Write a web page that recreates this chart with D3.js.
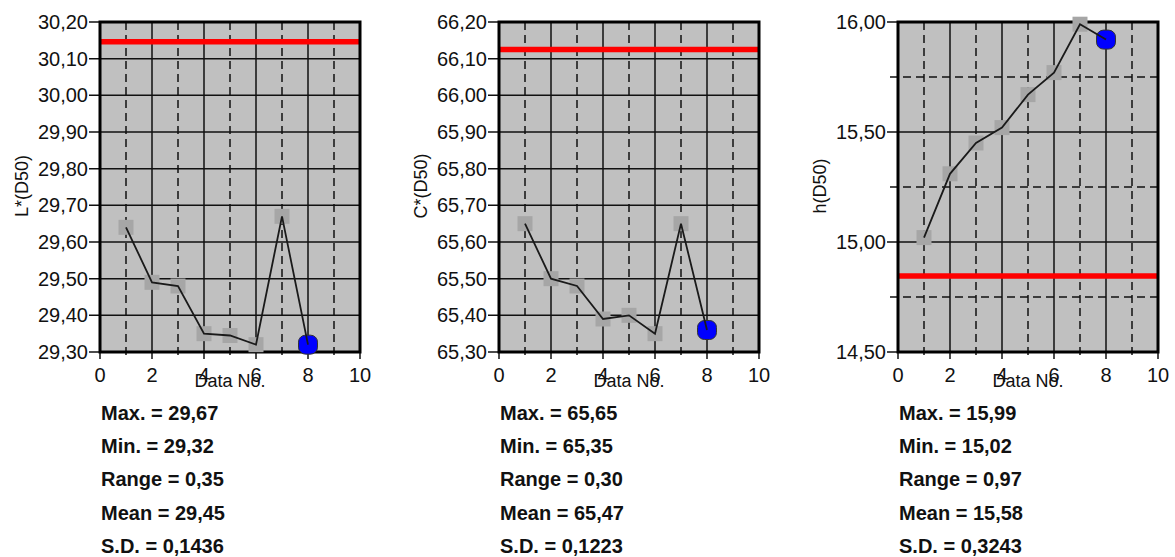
<!DOCTYPE html>
<html>
<head>
<meta charset="utf-8">
<script src="https://cdn.jsdelivr.net/npm/d3@7"></script>
<style>
  html, body { margin: 0; padding: 0; background: #fff; }
  svg { display: block; font-family: "Liberation Sans", Arial, sans-serif; }
</style>
</head>
<body>
<svg id="chart" width="1175" height="557"></svg>
<script>
// ---- data ----
const dataNo = [1, 2, 3, 4, 5, 6, 7, 8];
const lValues = [29.64, 29.49, 29.48, 29.35, 29.345, 29.32, 29.67, 29.32];
const cValues = [65.65, 65.50, 65.48, 65.39, 65.40, 65.35, 65.65, 65.36];
const hValues = [15.02, 15.31, 15.45, 15.52, 15.67, 15.77, 15.99, 15.92];
const limitValues = [30.146, 66.125, 14.845];
const axisTitles = ["L*(D50)", "C*(D50)", "h(D50)"];
const xTicks = [0, 2, 4, 6, 8, 10];
const lTicks = [29.3, 29.4, 29.5, 29.6, 29.7, 29.8, 29.9, 30.0, 30.1, 30.2];
const cTicks = [65.3, 65.4, 65.5, 65.6, 65.7, 65.8, 65.9, 66.0, 66.1, 66.2];
const hTicks = [14.5, 15.0, 15.5, 16.0];
const hMinorTicks = [14.75, 15.25, 15.75];
const statLabels = ["Max.", "Min.", "Range", "Mean", "S.D."];
const lStats = ["29,67", "29,32", "0,35", "29,45", "0,1436"];
const cStats = ["65,65", "65,35", "0,30", "65,47", "0,1223"];
const hStats = ["15,99", "15,02", "0,97", "15,58", "0,3243"];

(function () {
const panels = [
  { values: lValues, ticks: lTicks, minor: [], domain: [29.3, 30.2], limit: limitValues[0], title: axisTitles[0], stats: lStats, left: 100 },
  { values: cValues, ticks: cTicks, minor: [], domain: [65.3, 66.2], limit: limitValues[1], title: axisTitles[1], stats: cStats, left: 499 },
  { values: hValues, ticks: hTicks, minor: hMinorTicks, domain: [14.5, 16.0], limit: limitValues[2], title: axisTitles[2], stats: hStats, left: 898 }
];

const svg = d3.select("#chart");
const W = 260, plotTop = 22, plotBottom = 352;
const fmt = v => d3.format(".2f")(v).replace(".", ",");

panels.forEach(p => {
  const x = d3.scaleLinear().domain([0, 10]).range([p.left, p.left + W]);
  const y = d3.scaleLinear().domain(p.domain).range([plotBottom, plotTop]);
  const g = svg.append("g");

  g.append("rect").attr("x", x(0)).attr("y", y(p.domain[1]))
    .attr("width", x(10) - x(0)).attr("height", y(p.domain[0]) - y(p.domain[1]))
    .attr("fill", "#c0c0c0");

  d3.range(1, 10).forEach(i => {
    g.append("line").attr("x1", x(i)).attr("x2", x(i)).attr("y1", plotTop).attr("y2", plotBottom + 7)
      .attr("stroke", "#111").attr("stroke-width", 1.5)
      .attr("stroke-dasharray", i % 2 === 1 ? "8,5" : null);
  });
  [0, 10].forEach(i => {
    g.append("line").attr("x1", x(i)).attr("x2", x(i)).attr("y1", plotBottom).attr("y2", plotBottom + 7)
      .attr("stroke", "#111").attr("stroke-width", 1.5);
  });

  p.ticks.forEach(t => {
    g.append("line").attr("x1", x(0) - 11).attr("x2", x(10)).attr("y1", y(t)).attr("y2", y(t))
      .attr("stroke", "#111").attr("stroke-width", 1.5);
  });
  p.minor.forEach(t => {
    g.append("line").attr("x1", x(0) - 8).attr("x2", x(10)).attr("y1", y(t)).attr("y2", y(t))
      .attr("stroke", "#111").attr("stroke-width", 1.5).attr("stroke-dasharray", "8,5");
  });

  g.append("line").attr("x1", x(0)).attr("x2", x(10)).attr("y1", y(p.limit)).attr("y2", y(p.limit))
    .attr("stroke", "#ff0000").attr("stroke-width", 5.5);

  g.append("rect").attr("x", x(0)).attr("y", y(p.domain[1]))
    .attr("width", x(10) - x(0)).attr("height", y(p.domain[0]) - y(p.domain[1]))
    .attr("fill", "none").attr("stroke", "#000").attr("stroke-width", 3);

  p.ticks.forEach(t => {
    g.append("text").attr("x", x(0) - 12).attr("y", y(t)).attr("dy", "0.35em")
      .attr("text-anchor", "end").attr("font-size", 20).attr("fill", "#111").text(fmt(t));
  });
  xTicks.forEach(t => {
    g.append("text").attr("x", x(t)).attr("y", plotBottom + 30)
      .attr("text-anchor", "middle").attr("font-size", 20).attr("fill", "#111").text(t);
  });
  g.append("text").attr("x", (x(0) + x(10)) / 2).attr("y", plotBottom + 35)
    .attr("text-anchor", "middle").attr("font-size", 18).attr("fill", "#111").text("Data No.");
  g.append("text").attr("transform", `translate(${x(0) - 72},186) rotate(-90)`)
    .attr("text-anchor", "middle").attr("font-size", 18).attr("fill", "#111").text(p.title);

  const pts = dataNo.map((d, i) => [d, p.values[i]]);
  const last = pts.length - 1;
  g.selectAll(".sq").data(pts.slice(0, last)).enter().append("rect")
    .attr("x", d => x(d[0]) - 7.5).attr("y", d => y(d[1]) - 7.5)
    .attr("width", 15).attr("height", 15).attr("fill", "#a6a6a6");
  g.append("rect")
    .attr("x", x(pts[last][0]) - 9.5).attr("y", y(pts[last][1]) - 9.5)
    .attr("width", 19).attr("height", 19).attr("rx", 7)
    .attr("fill", "#0000ff").attr("stroke", "#333").attr("stroke-width", 1);

  g.append("path").datum(pts)
    .attr("d", d3.line().x(d => x(d[0])).y(d => y(d[1])))
    .attr("fill", "none").attr("stroke", "#1a1a1a").attr("stroke-width", 1.8);

  statLabels.forEach((s, i) => {
    g.append("text").attr("x", x(0) + 1).attr("y", 420 + i * 33.2)
      .attr("font-size", 20).attr("font-weight", "bold").attr("fill", "#111")
      .text(`${s} = ${p.stats[i]}`);
  });
});
})();
</script>
</body>
</html>
